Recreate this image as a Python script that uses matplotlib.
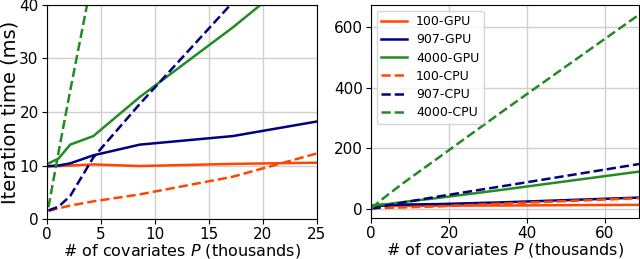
import matplotlib
matplotlib.use("Agg")
import matplotlib.pyplot as plt

P = [0.134, 1.07, 2.15, 4.29, 8.59, 17.2, 34.35, 68.7]
gpu_100 = [9.8, 9.9, 10.0, 10.2, 9.9, 10.3, 10.8, 13]
gpu_907 = [9.9, 10.0, 10.4, 11.9, 13.9, 15.5, 21.5, 37]
gpu_4000 = [10.4, 11.3, 13.9, 15.5, 22.8, 35.8, 64, 123]
cpu_100 = [1.5, 2.0, 2.5, 3.3, 4.6, 7.9, 17.5, 35]
cpu_907 = [1.6, 2.3, 4.3, 11.5, 21.5, 40.5, 76, 148]
cpu_4000 = [2.2, 12.5, 24, 46, 88, 168, 328, 642]

series = [
    ("100-GPU", gpu_100, "orangered", "-"),
    ("907-GPU", gpu_907, "navy", "-"),
    ("4000-GPU", gpu_4000, "forestgreen", "-"),
    ("100-CPU", cpu_100, "orangered", "--"),
    ("907-CPU", cpu_907, "navy", "--"),
    ("4000-CPU", cpu_4000, "forestgreen", "--"),
]

fig = plt.figure(figsize=(6.4, 2.59), dpi=100)
ax1 = fig.add_axes([47/640, 1 - 219/259, 270/640, 214/259])
ax2 = fig.add_axes([371/640, 1 - 218/259, 268/640, 213/259])

for ax in (ax1, ax2):
    for name, vals, col, ls in series:
        ax.plot(P, vals, color=col, linestyle=ls, linewidth=1.8, label=name)
    ax.grid(True, color="#d0d0d0", linewidth=1)
    ax.set_axisbelow(True)
    ax.tick_params(labelsize=11, pad=2.5)
    ax.set_xlabel("# of covariates $P$ (thousands)", fontsize=11.5, labelpad=0)

ax1.set_xlim(0, 25)
ax1.set_ylim(0, 40)
ax1.set_xticks([0, 5, 10, 15, 20, 25])
ax1.set_yticks([0, 10, 20, 30, 40])
ax1.set_ylabel("Iteration time (ms)", fontsize=14)
ax1.yaxis.set_label_coords(-0.1, 0.5)

ax2.set_xlim(0, 68.7)
ax2.set_xticks([0, 20, 40, 60])
ax2.set_yticks([0, 200, 400, 600])
ax2.legend(loc="upper left", fontsize=9, handlelength=2.1, handletextpad=0.7,
           labelspacing=0.42, borderaxespad=0.45, borderpad=0.35)

fig.savefig("out.png", dpi=100)
